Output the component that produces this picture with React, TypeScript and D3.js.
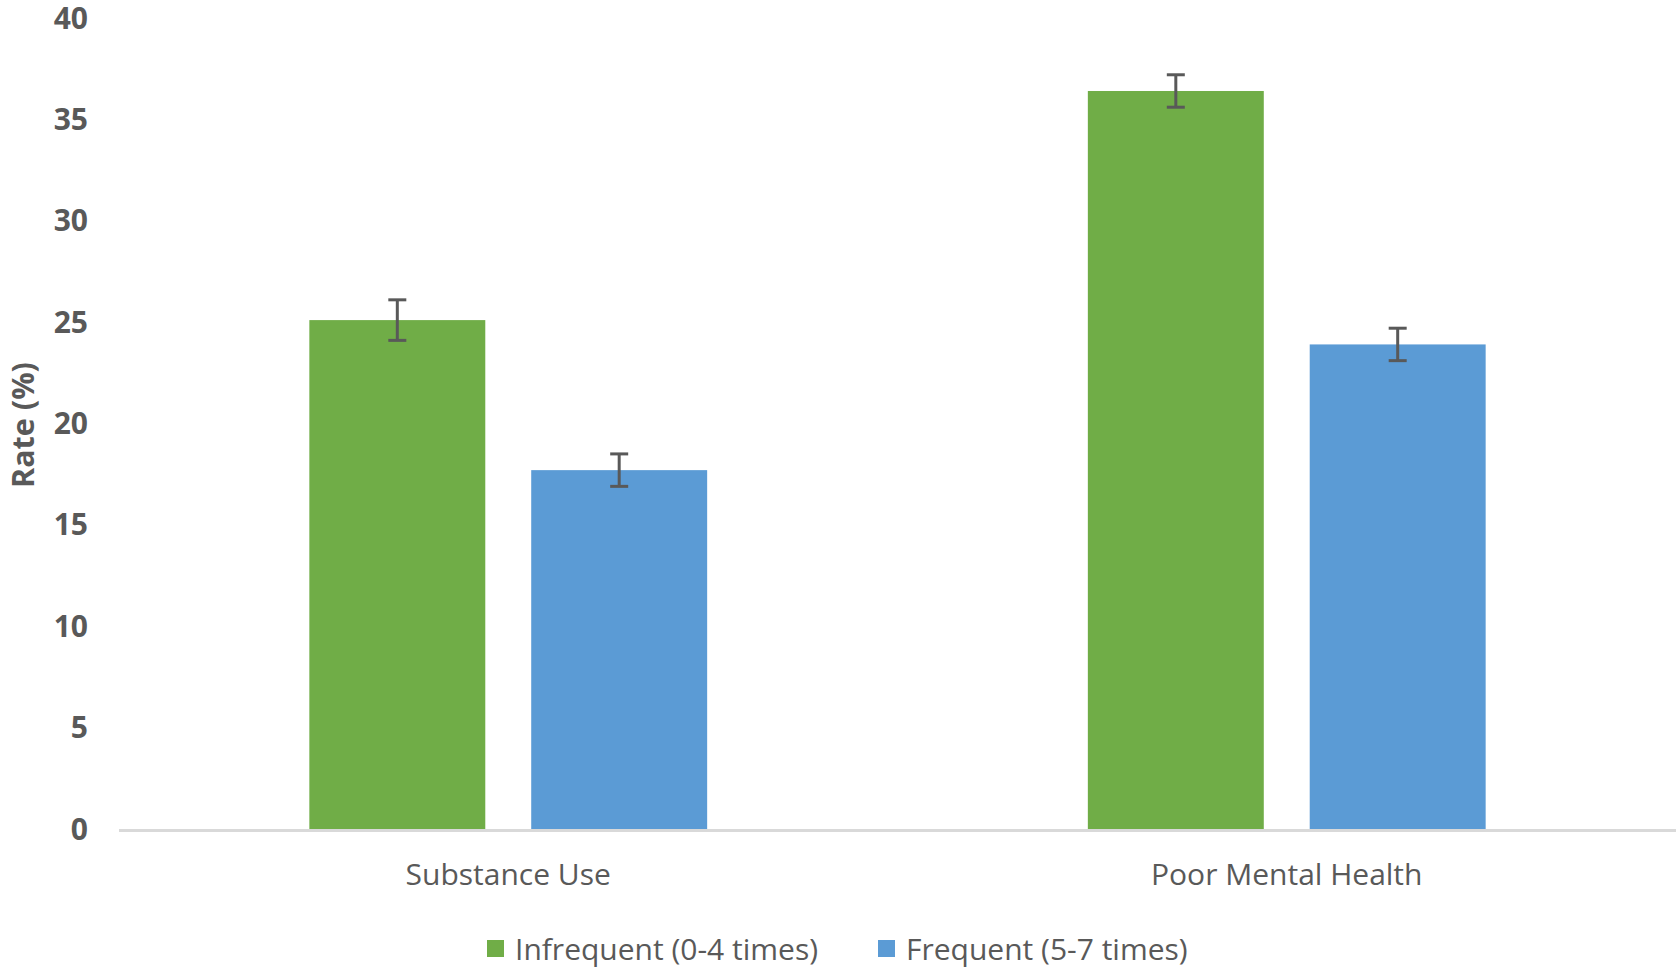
import * as d3 from "d3";

const categories = ["Substance Use", "Poor Mental Health"];
const seriesNames = ["Infrequent (0-4 times)", "Frequent (5-7 times)"];
const infrequent = [25.1, 36.4];
const frequent = [17.7, 23.9];
const infrequentErr = [1.0, 0.8];
const frequentErr = [0.8, 0.8];
const yTicks = [0, 5, 10, 15, 20, 25, 30, 35, 40];
const colors = ["#70AD47", "#5B9BD5"];

const W = 1679, H = 971;
const font = "'Open Sans', 'Noto Sans', sans-serif";
const textColor = "#595959";

export default function App() {
  const values = [infrequent, frequent];
  const errors = [infrequentErr, frequentErr];

  const y = d3.scaleLinear().domain([0, 40]).range([829, 18]);
  const x0 = d3.scaleBand<string>().domain(categories)
    .range([119, 1676]).paddingInner(0.489).paddingOuter(0.2445);
  const x1 = d3.scaleBand<string>().domain(seriesNames)
    .range([0, x0.bandwidth()]).paddingInner(0.207).paddingOuter(0);

  const capW = 18;

  return (
    <svg width={W} height={H} style={{ position: "absolute", left: 0, top: 0, background: "#fff" }}
      fontFamily={font}>
      {/* y tick labels */}
      {yTicks.map(t => (
        <text key={t} x={88} y={y(t)} dy="0.35em" textAnchor="end"
          fontSize={30} fontWeight={700} fill={textColor}>{t}</text>
      ))}
      <text transform={`translate(34,425) rotate(-90)`} textAnchor="middle"
        fontSize={30.5} fontWeight={700} fill={textColor}>Rate (%)</text>

      {/* bars */}
      {categories.map((c, ci) => (
        <g key={c} transform={`translate(${x0(c)},0)`}>
          {seriesNames.map((s, si) => {
            const v = values[si][ci];
            const e = errors[si][ci];
            const bx = x1(s)!;
            const cx = bx + x1.bandwidth() / 2;
            return (
              <g key={s}>
                <rect x={bx} y={y(v)} width={x1.bandwidth()} height={y(0) - y(v)} fill={colors[si]} />
                <g stroke="#595959" strokeWidth={3}>
                  <line x1={cx} x2={cx} y1={y(v + e)} y2={y(v - e)} />
                  <line x1={cx - capW / 2} x2={cx + capW / 2} y1={y(v + e)} y2={y(v + e)} />
                  <line x1={cx - capW / 2} x2={cx + capW / 2} y1={y(v - e)} y2={y(v - e)} />
                </g>
              </g>
            );
          })}
        </g>
      ))}

      {/* x axis */}
      <line x1={119} x2={1676} y1={y(0) + 1.5} y2={y(0) + 1.5} stroke="#D9D9D9" strokeWidth={3} />
      {categories.map(c => (
        <text key={c} x={x0(c)! + x0.bandwidth() / 2} y={874} dy="0.35em" textAnchor="middle"
          fontSize={30} fill={textColor}>{c}</text>
      ))}

      {/* legend */}
      {seriesNames.map((s, i) => {
        const lx = [487, 878][i];
        return (
          <g key={s}>
            <rect x={lx} y={940} width={17} height={17} fill={colors[i]} />
            <text x={lx + 28} y={949} dy="0.35em" fontSize={30} fill={textColor}>{s}</text>
          </g>
        );
      })}
    </svg>
  );
}
